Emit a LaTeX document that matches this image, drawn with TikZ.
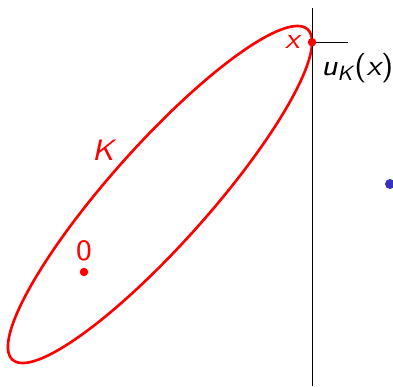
\documentclass[tikz,border=0pt]{standalone}
\usepackage{tikz}
\usetikzlibrary{calc}
\definecolor{dotblue}{RGB}{51,51,191}

\begin{document}
\begin{tikzpicture}[font=\fontsize{8.4}{10}\selectfont\sffamily\itshape,
    ell/.style={red, line width=0.75pt},
    dot/.style={circle, fill, inner sep=0pt, minimum size=#1}]
        % --- 1. Parameters ---
        \def\ellA{2.215}
        \def\ellB{0.495}
        \def\tiltAngle{48.25}
        \def\tRight{-14.06}  % parameter of the rightmost point

        \useasboundingbox (0,0) rectangle (3.93,3.86);

        % --- 2. The convex body K ---
        \coordinate (C) at (1.60,1.915);
        \begin{scope}[shift={(C)}, rotate=\tiltAngle]
            \draw[ell] (0,0) ellipse ({\ellA} and {\ellB});
            \coordinate (x) at ({\ellA*cos(\tRight)}, {\ellB*sin(\tRight)});
        \end{scope}
        \node[red] (K) at (1.03,2.36) {K};

        % origin
        \node[dot=0.85mm, red] (o) at (0.84,1.14) {};
        \node[red, inner sep=0pt] (olab) at (0.84,1.35) {\upshape 0};

        % --- 3. Supporting line and normal ---
        \coordinate (top) at (3.12,3.78);
        \coordinate (bot) at (3.12,0);
        \draw[line width=0.25pt] (x |- top) -- (x |- bot);
        \coordinate (nEnd) at ($(x)+(0.36,0)$);
        \draw[line width=0.25pt] (x) -- (nEnd);
        \node[dot=0.85mm, red] (xdot) at (x) {};
        \node[red, left=0pt] (xlab) at (x) {x};
        \node[anchor=north west, inner sep=1pt] (uK) at ($(x)+(0.05,-0.07)$)
            {u\textsubscript{K}\upshape(\itshape x\upshape)};

        % --- 4. Far point ---
        \node[dot=1mm, dotblue] (p) at (3.90,2.02) {};
\end{tikzpicture}
\end{document}
